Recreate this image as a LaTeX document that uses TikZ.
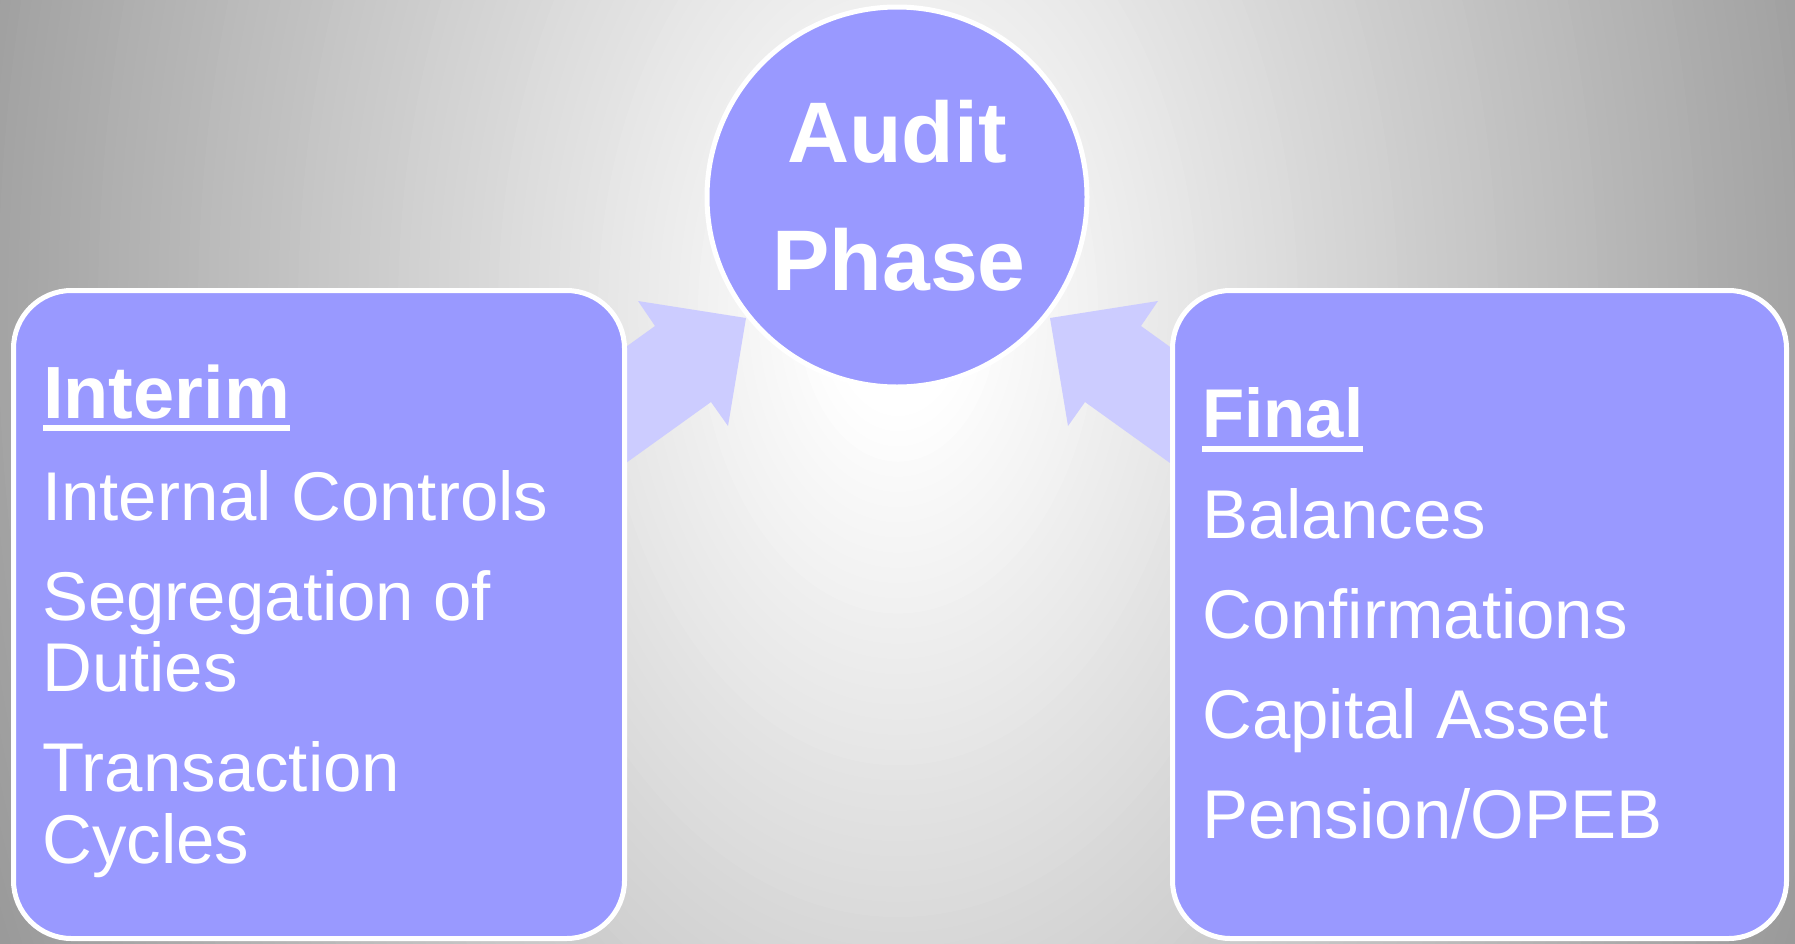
\documentclass[tikz,border=0pt]{standalone}
\usepackage{fontspec}
\setmainfont{Liberation Sans}

\definecolor{boxfill}{HTML}{9999FF}
\definecolor{arrowfill}{HTML}{CCCCFF}

\tikzset{
  panel/.style={draw=white, line width=5pt, fill=boxfill, rounded corners=58pt, inner sep=0pt},
  hub/.style={circle, draw=white, line width=5pt, fill=boxfill, inner sep=0pt},
  hubtext/.style={anchor=base, inner sep=0pt, text=white, font=\fontsize{86}{100}\selectfont\bfseries},
  headtext/.style={anchor=base west, inner sep=0pt, text=white},
  bodytext/.style={anchor=base west, inner sep=0pt, text=white, font=\fontsize{69}{75}\selectfont},
  blockarrow/.style={fill=arrowfill},
  underbar/.style={draw=white, line width=6pt},
}

\begin{document}
\begin{tikzpicture}[x=1pt, y=-1pt]
\useasboundingbox (0,0) rectangle (1795,943);

% grey backdrop: stacked ellipses, lightest near the top middle
\begin{scope}
  \clip (0,0) rectangle (1795,943);
  \foreach \k in {112,...,1}{
    \pgfmathsetmacro\R{\k/100}
    \pgfmathtruncatemacro\g{max(140,min(255,263-110*\R))}
    \definecolor{bgstep}{RGB}{\g,\g,\g}
    \fill[bgstep] (898,310) ellipse [x radius=\R*1000pt, y radius=\R*1518pt];
  }
\end{scope}

% block arrows pointing to the hub (tails hidden behind the panels)
\fill[blockarrow] (580,380) -- (655,326) -- (638,301) -- (746,318)
  -- (728,426) -- (711,402) -- (580,496) -- cycle;
\fill[blockarrow] (1216,380) -- (1141,326) -- (1158,301) -- (1050,318)
  -- (1068,426) -- (1085,402) -- (1216,496) -- cycle;

% hub
\node[hub, minimum size=380pt] (hub) at (897,197) {};
\node[hubtext] (audit) at (897,162) {Audit};
\node[hubtext] (phase) at (899,290) {Phase};

% panels
\node[panel, minimum width=611pt, minimum height=648pt] (leftpanel) at (319,614.5) {};
\node[panel, minimum width=614pt, minimum height=648pt] (rightpanel) at (1479.5,614.5) {};

% left panel text
\node[headtext, font=\fontsize{74}{80}\selectfont\bfseries] (interim) at (43,418) {Interim};
\draw[underbar] ([yshift=-10pt]interim.base west) -- ([yshift=-10pt]interim.base east);
\node[bodytext] (controls) at (42,520) {Internal Controls};
\node[bodytext] (segregation) at (42,620) {Segregation of};
\node[bodytext] (duties) at (42,691) {Duties};
\node[bodytext] (transaction) at (42,791) {Transaction};
\node[bodytext] (cycles) at (42,863) {Cycles};

% right panel text
\node[headtext, font=\fontsize{69}{75}\selectfont\bfseries] (final) at (1202,437) {Final};
\draw[underbar] ([yshift=-12pt]final.base west) -- ([yshift=-12pt]final.base east);
\node[bodytext] (balances) at (1202,538) {Balances};
\node[bodytext] (confirmations) at (1202,638) {Confirmations};
\node[bodytext] (capital) at (1202,738) {Capital Asset};
\node[bodytext] (pension) at (1202,838) {Pension/OPEB};
\end{tikzpicture}
\end{document}
